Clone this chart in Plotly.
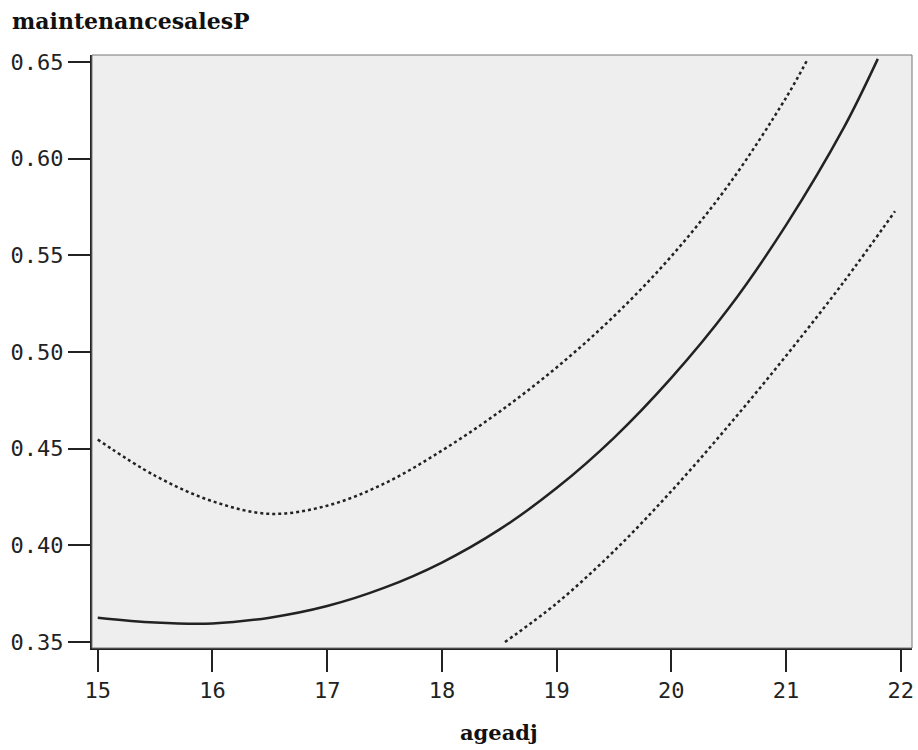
import plotly.graph_objects as go

# Fitted curve (solid)
fit_x = [15.0, 15.5, 16.0, 16.5, 17.0, 17.5, 18.0, 18.5, 19.0, 19.5, 20.0, 20.5, 21.0, 21.5, 21.8]
fit_y = [0.3626, 0.3601, 0.3596, 0.3626, 0.3686, 0.3781, 0.3911, 0.4081, 0.4296, 0.4556, 0.4866, 0.5226, 0.5656, 0.6156, 0.6516]

# Upper band (dotted)
upper_x = [15.0, 15.5, 16.0, 16.5, 17.0, 17.5, 18.0, 18.5, 19.0, 19.5, 20.0, 20.5, 21.0, 21.19]
upper_y = [0.4547, 0.436, 0.4228, 0.4163, 0.4205, 0.432, 0.449, 0.469, 0.492, 0.5185, 0.5495, 0.5865, 0.6315, 0.6516]

# Lower band (dotted)
lower_x = [18.55, 19.0, 19.5, 20.0, 20.5, 21.0, 21.5, 21.95]
lower_y = [0.350, 0.370, 0.397, 0.428, 0.462, 0.498, 0.536, 0.5728]

x_ticks = [15, 16, 17, 18, 19, 20, 21, 22]
y_ticks = [0.35, 0.40, 0.45, 0.50, 0.55, 0.60, 0.65]
y_tick_text = ["0.35", "0.40", "0.45", "0.50", "0.55", "0.60", "0.65"]

line_col = "#222222"

fig = go.Figure()
fig.add_trace(go.Scatter(x=upper_x, y=upper_y, mode="lines",
                         line=dict(color=line_col, width=2.5, dash="dot", shape="spline"),
                         showlegend=False))
fig.add_trace(go.Scatter(x=lower_x, y=lower_y, mode="lines",
                         line=dict(color=line_col, width=2.5, dash="dot", shape="spline"),
                         showlegend=False))
fig.add_trace(go.Scatter(x=fit_x, y=fit_y, mode="lines",
                         line=dict(color=line_col, width=2.5, shape="spline"),
                         showlegend=False))

tick_font = dict(family="DejaVu Sans Mono", size=22, color="#222222")

fig.update_layout(
    width=918, height=750,
    margin=dict(l=92, r=4, t=55, b=102),
    paper_bgcolor="white",
    plot_bgcolor="#eeeeee",
    title=dict(text="<b>maintenancesalesP</b>", x=12/918, y=1-21/750,
               xanchor="left", yanchor="middle", xref="container", yref="container",
               font=dict(family="DejaVu Serif", size=22, color="#111111")),
    xaxis=dict(range=[14.950, 22.098], tickvals=x_ticks, ticks="outside", ticklen=22,
               tickwidth=2, tickcolor=line_col, showline=True, linecolor=line_col, linewidth=2,
               showgrid=False, zeroline=False, tickfont=tick_font),
    yaxis=dict(range=[0.3469, 0.6536], tickvals=y_ticks, ticktext=y_tick_text, ticks="outside",
               ticklen=22, tickwidth=2, tickcolor=line_col, showline=True, linecolor=line_col,
               linewidth=2, showgrid=False, zeroline=False, tickfont=tick_font),
    shapes=[dict(type="rect", xref="paper", yref="paper", x0=0, y0=0, x1=1, y1=1,
                 line=dict(color="#777777", width=1), layer="above")],
    annotations=[dict(text="<b>ageadj</b>", xref="paper", yref="paper", x=0.496, y=-0.1433,
                      xanchor="center", yanchor="middle", showarrow=False,
                      font=dict(family="DejaVu Serif", size=21, color="#111111"))],
)

fig.write_html("out.html")
